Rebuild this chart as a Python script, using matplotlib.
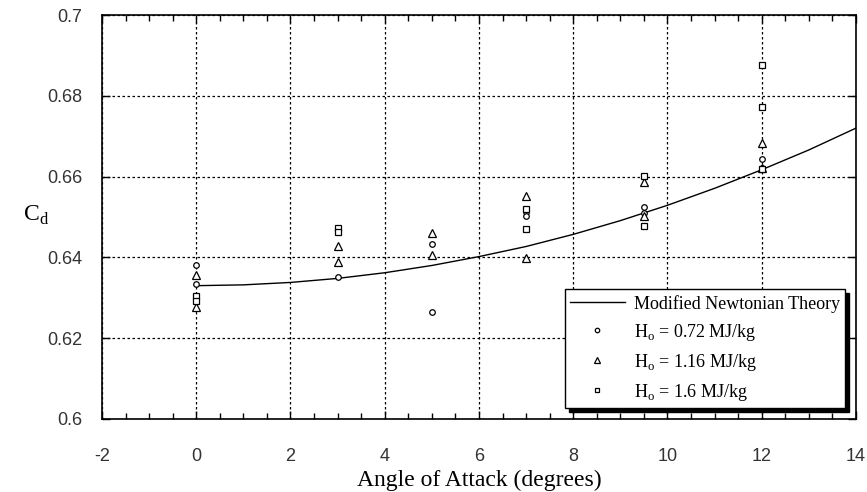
import matplotlib
matplotlib.use("Agg")
import matplotlib.pyplot as plt
from matplotlib.ticker import MultipleLocator

# curva da teoria newtoniana modificada (lida a cada 1 grau)
alfa_teoria = [0, 1, 2, 3, 4, 5, 6, 7, 8, 9, 10, 11, 12, 13, 14]
cd_teoria = [0.6330, 0.6332, 0.6338, 0.6348, 0.6362, 0.6380, 0.6402, 0.6427,
             0.6457, 0.6491, 0.6529, 0.6571, 0.6617, 0.6666, 0.6720]

# medidas por entalpia de estagnacao
alfa_072 = [0, 0, 3, 5, 5, 7, 7, 9.5, 9.5, 12, 12]
cd_072 = [0.6381, 0.6335, 0.6352, 0.6432, 0.6266, 0.6513, 0.6502,
          0.6525, 0.6510, 0.6643, 0.6622]

alfa_116 = [0, 0, 3, 3, 5, 5, 7, 7, 9.5, 9.5, 12, 12]
cd_116 = [0.6356, 0.6278, 0.6429, 0.6388, 0.6460, 0.6406, 0.6553, 0.6399,
          0.6587, 0.6502, 0.6684, 0.6621]

alfa_160 = [0, 0, 3, 3, 7, 7, 9.5, 9.5, 12, 12, 12]
cd_160 = [0.6305, 0.6293, 0.6474, 0.6463, 0.6520, 0.6470, 0.6602, 0.6478,
          0.6876, 0.6772, 0.6620]

rotulos = ['Modified Newtonian Theory',
           r'H$_\mathregular{o}$ = 0.72 MJ/kg',
           r'H$_\mathregular{o}$ = 1.16 MJ/kg',
           r'H$_\mathregular{o}$ = 1.6 MJ/kg']

plt.rcParams['font.family'] = ['Liberation Serif', 'DejaVu Serif']
plt.rcParams['mathtext.fontset'] = 'custom'
plt.rcParams['mathtext.rm'] = 'Liberation Serif'
plt.rcParams['axes.unicode_minus'] = False

fig = plt.figure(figsize=(8.67, 4.92), dpi=100)
ax = fig.add_axes([0.1176, 0.1484, 0.8697, 0.8211])

ax.plot(alfa_teoria, cd_teoria, color='black', lw=1.0, label=rotulos[0], zorder=3)
estilo = dict(ls='none', mfc='white', mec='black', mew=0.9, zorder=4)
ax.plot(alfa_072, cd_072, marker='o', ms=4, label=rotulos[1], **estilo)
ax.plot(alfa_116, cd_116, marker='^', ms=5.5, label=rotulos[2], **estilo)
ax.plot(alfa_160, cd_160, marker='s', ms=4, label=rotulos[3], **estilo)

ax.set_xlim(-2, 14)
ax.set_ylim(0.6, 0.7)
ax.xaxis.set_major_locator(MultipleLocator(2))
ax.xaxis.set_minor_locator(MultipleLocator(0.5))
ax.set_yticks([0.6, 0.62, 0.64, 0.66, 0.68, 0.7])
ax.set_yticklabels(['0.6', '0.62', '0.64', '0.66', '0.68', '0.7'])

ax.grid(True, which='major', color='black', ls=(0, (2, 2)), lw=0.9)
ax.tick_params(which='both', direction='in', top=True, right=True,
               colors='black', width=1.0)
ax.tick_params(which='major', length=6)
ax.tick_params(which='minor', length=4, left=False, right=False)
ax.tick_params(axis='x', which='major', pad=21)
ax.tick_params(axis='y', which='major', pad=14)
for lbl in ax.get_xticklabels() + ax.get_yticklabels():
    lbl.set_fontfamily('Liberation Sans')
    lbl.set_fontsize(13)
    lbl.set_color('#333333')
for s in ax.spines.values():
    s.set_linewidth(1.2)

ax.set_xlabel('Angle of Attack (degrees)', fontsize=17, labelpad=3)
fig.text(0.026, 0.563, r'C$_\mathregular{d}$', fontsize=17, va='center', ha='left')

leg = ax.legend(loc='lower left', bbox_to_anchor=(0.614, 0.027), borderaxespad=0,
                fancybox=False, framealpha=1, edgecolor='black', fontsize=13,
                handlelength=3.0, handletextpad=0.5, labelspacing=0.5,
                borderpad=0.3, markerscale=0.8,
                shadow={'facecolor': 'black', 'edgecolor': 'black', 'alpha': 1,
                        'ox': 3, 'oy': -3})
leg.get_frame().set_linewidth(1.0)

fig.savefig('out.png', dpi=100)
